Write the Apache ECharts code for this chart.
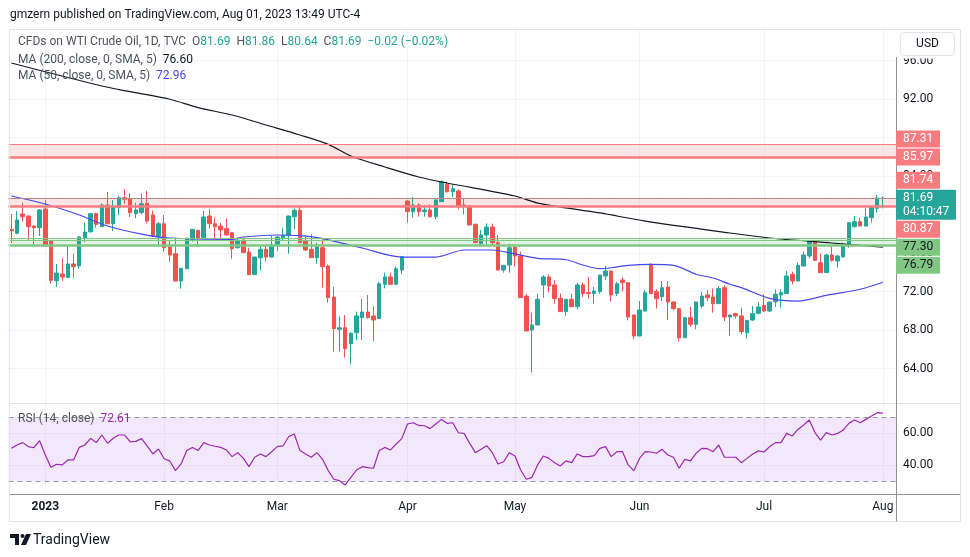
<!DOCTYPE html>
<html><head><meta charset="utf-8">
<script src="https://cdn.jsdelivr.net/npm/echarts@6/dist/echarts.min.js"></script>
<style>html,body{margin:0;padding:0;background:#fff}#c{width:970px;height:557px}</style>
</head><body><div id="c"></div><script>
const mk = (ym, days) => days.split(' ').map(d => ym + '-' + d);
const dates = [].concat(
  mk('2022-12', '22 23 27 28 29 30'),
  mk('2023-01', '03 04 05 06 09 10 11 12 13 16 17 18 19 20 23 24 25 26 27 30 31'),
  mk('2023-02', '01 02 03 06 07 08 09 10 13 14 15 16 17 20 21 22 23 24 27 28'),
  mk('2023-03', '01 02 03 06 07 08 09 10 13 14 15 16 17 20 21 22 23 24 27 28 29 30 31'),
  mk('2023-04', '03 04 05 06 10 11 12 13 14 17 18 19 20 21 24 25 26 27 28'),
  mk('2023-05', '01 02 03 04 05 08 09 10 11 12 15 16 17 18 19 22 23 24 25 26 30 31'),
  mk('2023-06', '01 02 05 06 07 08 09 12 13 14 15 16 19 20 21 22 23 26 27 28 29 30'),
  mk('2023-07', '03 04 05 06 07 10 11 12 13 14 17 18 19 20 21 24 25 26 27 28 31'),
  mk('2023-08', '01'));
const padDates = ['2023-08-02', '2023-08-03'];
const monthNames = ['Jan','Feb','Mar','Apr','May','Jun','Jul','Aug','Sep','Oct','Nov','Dec'];

const opens = [
78.45,78.05,80.05,79.84,78.80,78.63,80.57,77.25,73.12,73.82,
73.44,74.86,74.65,77.59,78.21,80.09,78.73,80.99,79.04,80.71,
81.75,81.64,80.09,80.19,81.16,79.95,77.77,79.04,76.66,75.93,
73.09,74.37,77.42,78.36,77.59,79.84,79.04,78.80,78.53,78.11,
76.55,77.32,76.10,73.75,75.51,76.38,75.58,76.73,77.53,77.84,
79.77,80.43,77.25,76.38,75.51,76.55,74.65,71.43,68.07,68.24,
66.58,67.72,69.28,69.87,69.46,69.18,72.75,73.51,72.75,74.23,
81.40,80.29,80.99,80.29,80.47,79.77,81.33,83.13,82.37,82.44,
80.99,80.88,78.98,76.97,77.87,78.70,77.07,74.23,74.75,76.62,
75.69,71.53,68.00,68.52,72.68,73.51,72.68,71.29,69.91,71.19,
70.43,72.68,71.88,71.78,71.98,73.61,74.13,71.78,73.20,72.92,
69.56,67.38,69.97,74.82,71.98,71.46,72.47,70.91,70.22,67.20,
69.28,68.59,70.49,71.64,71.43,70.74,72.40,69.35,69.70,69.46,
67.72,69.04,69.73,70.56,69.97,70.94,71.64,71.78,73.78,73.09,
74.65,75.69,77.25,74.99,73.96,75.79,75.17,75.59,76.83,78.74,
79.25,78.80,79.67,80.64,81.69];
const highs = [
80.05,80.36,81.23,79.90,78.85,80.57,81.50,77.30,74.86,75.45,
76.73,75.93,77.77,79.15,80.12,80.19,81.16,82.34,81.50,81.95,
82.65,82.23,81.23,82.16,82.44,80.43,79.22,79.95,77.32,77.59,
74.45,77.59,78.50,78.40,80.36,80.54,79.67,79.15,79.56,78.15,
77.66,77.53,76.55,75.62,76.73,76.73,77.77,77.77,78.57,79.88,
80.60,80.88,77.77,77.94,77.07,77.42,74.82,72.47,69.39,69.56,
67.79,69.91,71.26,71.64,70.43,72.99,73.96,73.96,74.58,75.65,
81.47,81.82,81.16,80.99,81.06,81.58,83.55,83.38,83.13,82.61,
81.68,80.92,79.05,78.39,79.08,79.05,77.87,74.75,76.97,76.73,
76.14,71.71,69.80,71.78,73.71,73.78,73.16,71.78,71.22,71.78,
72.92,72.92,73.51,72.47,73.74,74.65,74.16,72.99,73.51,72.95,
69.60,71.01,72.16,74.93,72.23,73.09,73.09,71.01,70.25,69.31,
70.39,70.94,71.98,72.16,72.30,72.57,72.64,69.60,69.80,70.32,
69.03,70.50,70.91,71.71,70.94,72.23,72.23,74.13,74.06,74.99,
76.14,77.32,77.32,75.93,75.93,76.80,75.79,77.07,79.18,79.84,
79.67,80.64,80.74,82.03,81.86];
const lows = [
77.04,77.94,79.25,77.35,76.90,77.77,76.66,72.81,72.47,73.09,
73.40,73.44,74.37,77.14,78.11,78.63,78.70,79.00,78.29,79.95,
81.12,79.74,79.60,80.05,79.08,77.70,76.66,76.13,75.07,73.05,
72.29,74.33,77.17,76.66,77.55,78.53,77.53,77.42,77.85,75.41,
76.45,76.00,73.72,73.72,74.20,75.10,75.55,76.21,77.25,75.93,
78.46,77.03,76.21,75.48,74.89,72.40,70.84,65.75,65.75,65.13,
64.43,66.96,66.96,69.18,66.86,69.15,72.33,72.72,72.68,73.85,
79.15,79.67,79.77,79.77,79.67,79.50,81.30,82.27,81.82,80.54,
80.02,78.88,77.05,76.83,76.83,76.83,74.20,73.96,73.96,74.58,
71.33,67.88,63.57,68.50,71.36,71.88,70.74,69.88,69.46,70.40,
70.15,71.43,71.26,70.74,71.78,73.20,71.01,71.53,72.05,69.00,
67.03,67.35,69.94,71.75,70.22,71.01,69.04,70.04,66.79,67.17,
68.31,68.07,70.25,71.01,69.80,70.71,68.94,67.38,69.20,67.55,
67.10,68.94,69.63,69.87,69.87,70.39,70.32,71.75,72.75,73.06,
74.62,75.45,75.21,73.93,73.93,75.10,74.48,75.56,76.55,78.63,
78.77,78.77,79.15,80.19,80.64];
const closes = [
78.30,79.43,79.77,78.73,78.63,80.47,76.73,73.16,73.92,73.51,
74.86,74.58,77.66,78.18,80.09,78.98,80.99,79.04,80.78,81.75,
81.58,80.19,80.47,81.12,79.32,77.77,79.04,76.55,75.79,73.09,
74.41,77.53,78.46,77.53,79.74,79.04,78.73,78.39,77.87,76.45,
77.32,76.03,73.75,75.58,76.38,75.58,76.80,77.66,77.84,79.84,
80.43,77.07,76.31,75.51,76.62,74.58,71.36,68.14,68.24,66.06,
67.65,69.46,69.87,69.28,69.04,72.81,73.51,72.75,74.37,75.62,
80.29,80.99,80.29,80.47,79.77,81.51,83.38,82.37,82.68,80.95,
80.85,78.91,77.07,77.87,78.70,77.07,74.23,74.72,76.55,75.69,
71.36,67.90,68.52,71.19,73.51,72.57,71.26,69.91,71.19,70.43,
72.68,71.78,71.78,72.05,73.71,74.13,71.64,72.81,72.92,69.35,
67.38,70.08,71.88,71.78,71.26,72.40,70.91,70.22,67.20,69.28,
68.59,70.91,71.53,71.36,70.74,72.30,69.35,69.56,69.46,67.83,
69.00,69.70,70.39,69.97,70.91,71.71,71.88,73.61,73.09,74.72,
75.79,77.18,75.24,73.96,75.79,75.24,75.69,76.80,79.15,79.25,
78.80,79.74,80.71,81.71,81.69];

// moving averages read at sample bars: [bar index, value]
const ma200 = [[0,95.74],[16,93.35],[21,92.76],[28,91.97],[33,91.10],[39,90.34],[45,89.30],[51,88.26],[56,87.29],[60,86.08],[66,84.94],[72,83.90],[77,83.27],[89,81.92],[93,81.19],[104,80.16],[112,79.32],[127,78.08],[134,77.56],[145,77.04],[154,76.60]];
const ma50 = [[0,81.92],[6,81.09],[12,79.95],[17,78.81],[23,77.97],[28,77.56],[39,77.42],[41,77.66],[47,77.87],[51,77.80],[55,77.50],[62,76.52],[69,75.58],[75,75.58],[80,76.31],[85,76.31],[89,75.90],[93,75.45],[98,75.30],[101,74.75],[104,74.37],[106,74.47],[109,74.72],[113,74.82],[117,74.72],[121,73.79],[124,73.40],[127,72.75],[129,72.40],[134,71.29],[139,71.01],[144,71.60],[150,72.23],[154,72.96]];

const rsi = [
50.5,52.6,54.1,51.6,50.9,55.3,46.3,38.6,40.5,40.1,
43.2,43.2,51.1,52.6,56.8,54.1,58.9,53.7,56.8,58.9,
58.9,54.5,54.9,56.6,52.0,47.0,50.1,44.0,42.6,36.5,
40.7,49.1,51.1,49.1,54.1,52.6,51.8,51.1,49.5,45.3,
47.8,44.2,39.0,44.9,47.0,45.3,48.4,51.6,52.0,57.8,
59.5,49.1,47.0,44.9,47.8,43.6,36.5,31.1,30.2,27.5,
32.3,36.9,39.0,38.4,38.0,49.1,51.1,49.5,53.2,56.6,
65.8,66.6,64.9,64.7,62.9,65.8,68.7,66.2,66.6,60.3,
59.9,53.6,47.8,49.9,52.2,47.8,40.7,42.1,47.8,45.7,
36.9,31.1,32.3,40.1,45.7,44.2,41.5,39.4,42.6,41.5,
47.0,45.3,45.3,45.9,50.5,51.6,45.3,48.4,48.4,40.1,
36.5,44.2,48.4,48.2,47.4,49.9,46.3,44.9,38.0,43.6,
42.6,47.4,50.5,50.3,48.4,52.6,44.9,44.9,44.9,41.5,
44.2,47.0,48.9,48.2,51.6,54.1,54.1,59.9,58.3,62.4,
65.2,68.3,60.4,55.7,60.4,58.9,59.9,62.0,66.2,68.3,
66.6,68.7,70.8,72.9,72.61];

const priceTicks = [64, 68, 72, 76, 80, 84, 88, 92, 96];
const rsiTicks = [40, 60];
const redZones = [[87.31, 85.97], [81.74, 80.87]];
const greenZone = [77.52, 76.79];
const redLevels = [87.31, 85.97, 81.74, 80.87];
const greenLevels = [77.30, 76.79];
const lastClose = 81.69;
const countdown = '04:10:47';

const allDates = dates.concat(padDates);
const UP = '#26a69a', DOWN = '#ef5350', RED = '#f77c80', GREEN = '#81c784';
const isMonthStart = (i) => i > 0 && allDates[i].slice(0, 7) !== allDates[i - 1].slice(0, 7);

const candleData = dates.map((d, i) => {
  const item = { value: [opens[i], closes[i], lows[i], highs[i]] };
  if (i === dates.length - 1) item.itemStyle = { color0: UP, borderColor0: UP, color: UP, borderColor: UP };
  return item;
});

const T = 'rgba(0,0,0,0)', G = '#f0f3fa';
const mainSplit = [];
for (let v = 60; v <= 100; v += 4) mainSplit.push(priceTicks.indexOf(v) >= 0 ? G : T);
const rsiSplit = [];
for (let v = 20; v <= 80; v += 10) rsiSplit.push(rsiTicks.indexOf(v) >= 0 ? G : T);

const FONT = 'Roboto, "Noto Sans", sans-serif';
const option = {
  animation: false,
  backgroundColor: '#fff',
  textStyle: { fontFamily: FONT },
  grid: [
    { left: 8.5, right: 73, top: 22, height: 385 },
    { left: 8.5, right: 73, top: 401.4, height: 95.5 }
  ],
  xAxis: [
    { gridIndex: 0, type: 'category', data: allDates, boundaryGap: true,
      axisLine: { show: false }, axisTick: { show: false }, axisLabel: { show: false },
      splitLine: { show: true, interval: (i) => isMonthStart(i), alignWithLabel: true, lineStyle: { color: G, width: 1 } } },
    { gridIndex: 1, type: 'category', data: allDates, boundaryGap: true,
      axisLine: { show: false }, axisTick: { show: false },
      axisLabel: { show: true, interval: (i) => isMonthStart(i), margin: 4, color: '#131722', fontSize: 12, fontFamily: FONT,
        formatter: (v) => v.slice(5, 7) === '01' ? '{b|' + v.slice(0, 4) + '}' : monthNames[+v.slice(5, 7) - 1],
        rich: { b: { fontWeight: 'bold', fontSize: 12, color: '#131722', fontFamily: FONT } } },
      splitLine: { show: true, interval: (i) => isMonthStart(i), alignWithLabel: true, lineStyle: { color: G, width: 1 } } }
  ],
  yAxis: [
    { gridIndex: 0, type: 'value', position: 'right', min: 60, max: 100, interval: 4,
      axisLine: { show: false }, axisTick: { show: false },
      axisLabel: { color: '#131722', fontSize: 12, margin: 6, fontFamily: FONT,
        formatter: (v) => priceTicks.indexOf(v) >= 0 ? v.toFixed(2) : '' },
      splitLine: { show: true, lineStyle: { color: mainSplit } } },
    { gridIndex: 1, type: 'value', position: 'right', min: 20, max: 80, interval: 10,
      axisLine: { show: false }, axisTick: { show: false },
      axisLabel: { color: '#131722', fontSize: 12, margin: 6, fontFamily: FONT,
        formatter: (v) => rsiTicks.indexOf(v) >= 0 ? v.toFixed(2) : '' },
      splitLine: { show: true, lineStyle: { color: rsiSplit } } }
  ],
  series: [
    { type: 'candlestick', xAxisIndex: 0, yAxisIndex: 0, data: candleData, barWidth: 4,
      itemStyle: { color: UP, color0: DOWN, borderColor: UP, borderColor0: DOWN, borderWidth: 1 },
      markArea: { silent: true, data: [
        [{ yAxis: redZones[0][0], itemStyle: { color: 'rgba(247,124,128,0.2)' } }, { yAxis: redZones[0][1] }],
        [{ yAxis: redZones[1][0], itemStyle: { color: 'rgba(247,124,128,0.2)' } }, { yAxis: redZones[1][1] }],
        [{ yAxis: greenZone[0], itemStyle: { color: 'rgba(129,199,132,0.22)' } }, { yAxis: greenZone[1] }]
      ] },
      markLine: { silent: true, symbol: ['none', 'none'], label: { show: false }, data: [
        { yAxis: redZones[0][0], lineStyle: { color: RED, width: 1, type: 'solid' } },
        { yAxis: redZones[0][1], lineStyle: { color: RED, width: 2.5, type: 'solid' } },
        { yAxis: redZones[1][0], lineStyle: { color: RED, width: 1, type: 'solid' } },
        { yAxis: redZones[1][1], lineStyle: { color: RED, width: 2.5, type: 'solid' } },
        { yAxis: greenZone[0], lineStyle: { color: GREEN, width: 1, type: 'solid' } },
        { yAxis: greenLevels[0], lineStyle: { color: GREEN, width: 1, type: 'solid' } },
        { yAxis: greenLevels[1], lineStyle: { color: GREEN, width: 2.5, type: 'solid' } },
        { yAxis: lastClose, lineStyle: { color: '#26a69a', width: 1, type: [1, 2] } }
      ] } },
    { type: 'line', xAxisIndex: 0, yAxisIndex: 0, data: ma200.map(p => [dates[p[0]], p[1]]),
      symbol: 'none', smooth: 0.3, lineStyle: { color: '#131722', width: 1.2 }, z: 4 },
    { type: 'line', xAxisIndex: 0, yAxisIndex: 0, data: ma50.map(p => [dates[p[0]], p[1]]),
      symbol: 'none', smooth: 0.3, lineStyle: { color: '#4646f2', width: 1.2 }, z: 4 },
    { type: 'line', xAxisIndex: 1, yAxisIndex: 1, data: rsi, symbol: 'none',
      lineStyle: { color: '#9c27b0', width: 1.2 }, z: 4,
      markArea: { silent: true, data: [[{ yAxis: 70, itemStyle: { color: 'rgba(170,90,230,0.14)' } }, { yAxis: 30 }]] },
      markLine: { silent: true, symbol: ['none', 'none'], label: { show: false },
        lineStyle: { color: '#9598a1', type: [5, 4], width: 1 }, data: [{ yAxis: 70 }, { yAxis: 30 }] } }
  ]
};

const chart = echarts.init(document.getElementById('c'));
chart.setOption(option);

const HH = 9; // half tag slot
const py = (v) => chart.convertToPixel({ yAxisIndex: 0 }, v);
const cur = py(lastClose);
const levels = redLevels.map(v => ({ v, bg: RED, fg: '#ffffff' }))
  .concat(greenLevels.map(v => ({ v, bg: GREEN, fg: '#131722' })));
const above = levels.filter(l => l.v > lastClose).sort((a, b) => a.v - b.v);
let lim = cur - HH;
above.forEach(l => { const c = Math.min(py(l.v), lim - HH); l.c = c; lim = c - HH; });
const below = levels.filter(l => l.v < lastClose).sort((a, b) => b.v - a.v);
lim = cur + 22;
below.forEach(l => { const c = Math.max(py(l.v), lim + HH); l.c = c; lim = c + HH; });

const g = [];
const Z = 100;
g.push({ type: 'rect', shape: { x: 0, y: 0, width: 970, height: 29.5 }, style: { fill: '#fff' }, z: 50, silent: true });
g.push({ type: 'rect', shape: { x: 10, y: 494.6, width: 950, height: 4 }, style: { fill: '#fff' }, z: 50, silent: true });
g.push({ type: 'rect', shape: { x: 897, y: 30, width: 62.5, height: 28.5 }, style: { fill: '#fff' }, z: 50, silent: true });
g.push({ type: 'rect', shape: { x: 9.5, y: 29.5, width: 951, height: 492 }, style: { fill: 'none', stroke: '#e0e3eb', lineWidth: 1 }, z: 60, silent: true });
g.push({ type: 'line', shape: { x1: 10, y1: 403.5, x2: 960, y2: 403.5 }, style: { stroke: '#e0e3eb', lineWidth: 1 }, z: 60, silent: true });
g.push({ type: 'line', shape: { x1: 10, y1: 494.5, x2: 960, y2: 494.5 }, style: { stroke: '#8f929b', lineWidth: 1 }, z: 60, silent: true });
g.push({ type: 'line', shape: { x1: 896.5, y1: 57, x2: 896.5, y2: 521.5 }, style: { stroke: '#8f929b', lineWidth: 1 }, z: 60, silent: true });
// USD button
g.push({ type: 'rect', shape: { x: 900.5, y: 32.5, width: 54, height: 23, r: 4 }, style: { fill: '#fff', stroke: '#e0e3eb', lineWidth: 1 }, z: Z });
g.push({ type: 'text', style: { x: 927.5, y: 44, text: 'USD', fill: '#131722', font: '12px ' + FONT, align: 'center', verticalAlign: 'middle' }, z: Z });

// price tags
levels.forEach(l => {
  g.push({ type: 'rect', shape: { x: 896, y: l.c - HH + 0.5, width: 44, height: 2 * HH - 1, r: 1 }, style: { fill: l.bg }, z: Z });
  g.push({ type: 'text', style: { x: 903, y: l.c, text: l.v.toFixed(2), fill: l.fg, font: '12px ' + FONT, verticalAlign: 'middle' }, z: Z + 1 });
});
g.push({ type: 'rect', shape: { x: 896, y: cur - HH + 0.5, width: 60, height: 22 + HH - 1, r: 1 }, style: { fill: UP }, z: Z });
g.push({ type: 'text', style: { x: 903, y: cur, text: lastClose.toFixed(2), fill: '#fff', font: '12px ' + FONT, verticalAlign: 'middle' }, z: Z + 1 });
g.push({ type: 'text', style: { x: 903, y: cur + 14, text: countdown, fill: '#fff', font: '12px ' + FONT, verticalAlign: 'middle' }, z: Z + 1 });

// header & legends
g.push({ type: 'text', style: { x: 10, y: 15, text: 'gmzern published on TradingView.com, Aug 01, 2023 13:49 UTC-4', fill: '#131722', font: '12px ' + FONT, verticalAlign: 'middle' }, z: Z });
const GR = '#50535e', TE = '#22a594';
const rs = (c) => ({ fill: c, font: '12px ' + FONT });
g.push({ type: 'text', style: { x: 18, y: 42, verticalAlign: 'middle', font: '12px ' + FONT,
  text: '{g|CFDs on WTI Crude Oil, 1D, TVC}  {g|O}{t|' + opens[154].toFixed(2) + '}  {g|H}{t|' + highs[154].toFixed(2) + '}  {g|L}{t|' + lows[154].toFixed(2) + '}  {g|C}{t|' + closes[154].toFixed(2) + '}  {t|\u22120.02 (\u22120.02%)}',
  rich: { g: rs(GR), t: rs(TE) } }, z: Z });
g.push({ type: 'text', style: { x: 18, y: 59.5, verticalAlign: 'middle', font: '12px ' + FONT,
  text: '{g|MA (200, close, 0, SMA, 5)}  {k|' + ma200[ma200.length - 1][1].toFixed(2) + '}', rich: { g: rs(GR), k: rs('#131722') } }, z: Z });
g.push({ type: 'text', style: { x: 18, y: 75.5, verticalAlign: 'middle', font: '12px ' + FONT,
  text: '{g|MA (50, close, 0, SMA, 5)}  {b|' + ma50[ma50.length - 1][1].toFixed(2) + '}', rich: { g: rs(GR), b: rs('#4646f2') } }, z: Z });
g.push({ type: 'text', style: { x: 18, y: 419, verticalAlign: 'middle', font: '12px ' + FONT,
  text: '{g|RSI (14, close)}  {p|' + rsi[rsi.length - 1].toFixed(2) + '}', rich: { g: rs(GR), p: rs('#9c27b0') } }, z: Z });

// TradingView logo
g.push({ type: 'polygon', shape: { points: [[10, 534], [19, 534], [19, 545], [15, 545], [15, 538], [10, 538]] }, style: { fill: '#131722' }, z: Z });
g.push({ type: 'circle', shape: { cx: 22.5, cy: 536, r: 2 }, style: { fill: '#131722' }, z: Z });
g.push({ type: 'polygon', shape: { points: [[26, 534], [31, 534], [26, 545], [21, 545]] }, style: { fill: '#131722' }, z: Z });
g.push({ type: 'text', style: { x: 33, y: 540, text: 'TradingView', fill: '#131722', font: '14px ' + FONT, verticalAlign: 'middle' }, z: Z });

chart.setOption({ graphic: g });
</script></body></html>
